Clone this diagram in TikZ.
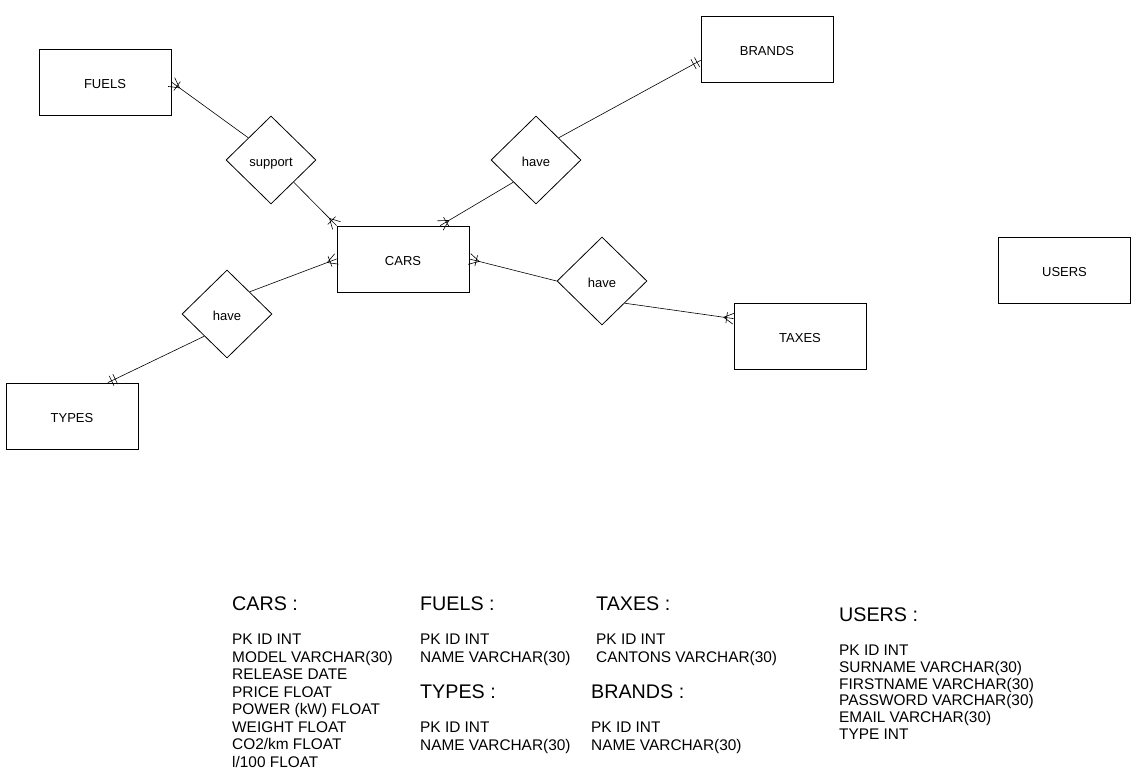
\documentclass[tikz,border=0pt]{standalone}
\usepackage{fontspec}
\setmainfont{Liberation Sans}
\usetikzlibrary{shapes.geometric,calc,decorations.markings}
\begin{document}
\begin{tikzpicture}[x=1pt,y=-1pt,
  entity/.style={draw,line width=0.8pt,minimum width=132pt,minimum height=66pt,inner sep=0pt,text height=12.3pt,text depth=0pt,font=\fontsize{13}{15}\selectfont},
  rel/.style={draw,line width=0.8pt,diamond,minimum width=90pt,minimum height=88pt,inner sep=0pt,text height=12.3pt,text depth=0pt,font=\fontsize{13}{15}\selectfont},
  conn/.style={line width=0.6pt},
  onemany/.style={postaction={decorate},decoration={markings,mark=at position 1 with {
     \draw[line width=0.6pt] (-10pt,0pt) -- (0pt,5.5pt) (-10pt,0pt) -- (0pt,-5.5pt) (-7pt,5.5pt) -- (-7pt,-5.5pt);}}},
  oneonly/.style={postaction={decorate},decoration={markings,mark=at position 1 with {
     \draw[line width=0.6pt] (-4pt,5.5pt) -- (-4pt,-5.5pt) (-8pt,5.5pt) -- (-8pt,-5.5pt);}}},
  head/.style={anchor=base west,inner sep=0pt,font=\fontsize{19.7}{22}\selectfont},
  item/.style={anchor=base west,inner sep=0pt,font=\fontsize{15.4}{17}\selectfont}
]
\useasboundingbox (0,0) rectangle (1140,781);
% entities
\node[entity] (fuels) at (105,82) {FUELS};
\node[entity] (cars) at (403,259) {CARS};
\node[entity] (brands) at (767,49) {BRANDS};
\node[entity] (users) at (1064.5,270) {USERS};
\node[entity] (taxes) at (800,336) {TAXES};
\node[entity] (types) at (72,416) {TYPES};
% relations
\node[rel] (support) at (271,160) {support};
\node[rel] (haveb) at (536,160) {have};
\node[rel] (havet) at (602,281) {have};
\node[rel] (havety) at (227,314) {have};
% attachment points
\coordinate (brandsin) at ($(brands.south west)!0.33!(brands.north west)$);
\coordinate (carstop) at ($(cars.north west)!0.78!(cars.north east)$);
\coordinate (taxesin) at ($(taxes.south west)!0.76!(taxes.north west)$);
\coordinate (typestop) at ($(types.north west)!0.77!(types.north east)$);
% connectors
\draw[conn,onemany] (support.north west) -- (fuels.east);
\draw[conn,onemany] (support.south east) -- (cars.north west);
\draw[conn,onemany] (haveb.south west) -- (carstop);
\draw[conn,oneonly] (haveb.north east) -- (brandsin);
\draw[conn,onemany] (havet.west) -- (cars.east);
\draw[conn,onemany] (havet.south east) -- (taxesin);
\draw[conn,onemany] (havety.north east) -- (cars.west);
\draw[conn,oneonly] (havety.south west) -- (typestop);
% tables
\node[head] (hcars) at (232,610) {CARS :};
\foreach \t [count=\i] in {{PK ID INT},{MODEL VARCHAR(30)},{RELEASE DATE},{PRICE FLOAT},{POWER (kW) FLOAT},{WEIGHT FLOAT},{CO2/km FLOAT},{l/100 FLOAT}}
  \node[item] (lcars\i) at (232,{644.5+17.5*(\i-1)}) {\t};
\node[head] (hfuels) at (420,610) {FUELS :};
\node[item] (lfuels1) at (420,644.5) {PK ID INT};
\node[item] (lfuels2) at (420,662) {NAME VARCHAR(30)};
\node[head] (htypes) at (420,698) {TYPES :};
\node[item] (ltypes1) at (420,732.5) {PK ID INT};
\node[item] (ltypes2) at (420,750) {NAME VARCHAR(30)};
\node[head] (htaxes) at (596,610) {TAXES :};
\node[item] (ltaxes1) at (596,644.5) {PK ID INT};
\node[item] (ltaxes2) at (596,662) {CANTONS VARCHAR(30)};
\node[head] (hbrands) at (591,698) {BRANDS :};
\node[item] (lbrands1) at (591,732.5) {PK ID INT};
\node[item] (lbrands2) at (591,750) {NAME VARCHAR(30)};
\node[head] (husers) at (839,621) {USERS :};
\foreach \t [count=\i] in {{PK ID INT},{SURNAME VARCHAR(30)},{FIRSTNAME VARCHAR(30)},{PASSWORD VARCHAR(30)},{EMAIL VARCHAR(30)},{TYPE INT}}
  \node[item] (lusers\i) at (839,{655.5+16.8*(\i-1)}) {\t};
\end{tikzpicture}
\end{document}
